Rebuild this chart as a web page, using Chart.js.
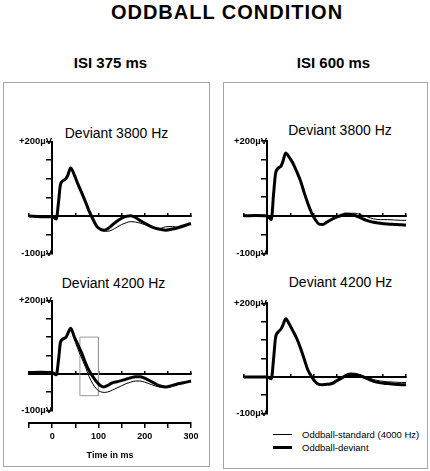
<!DOCTYPE html>
<html>
<head>
<meta charset="utf-8">
<script src="https://cdn.jsdelivr.net/npm/chart.js@4.4.1/dist/chart.umd.min.js"></script>
<style>
    body { margin: 0; background: #fff; font-family: "Liberation Sans", Arial, sans-serif; color: #000; }
    #page { position: relative; width: 430px; height: 471px; overflow: hidden; background: #fff; }
    .txt { position: absolute; white-space: nowrap; line-height: 1; transform: translate(-50%, -50%); }
    .txtg { position: absolute; white-space: nowrap; line-height: 1; transform: translate(0, -50%); font-size: 9.5px; }
    .panel { position: absolute; box-sizing: border-box; border: 1px solid #a6a6a6; }
    .trait { position: absolute; background: #000; width: 19px; }
    canvas { position: absolute; }
</style>
</head>
<body>
<div id="page">
    <div class="txt" style="left:227px; top:12px; font-size:20px; font-weight:bold; letter-spacing:1px;">ODDBALL CONDITION</div>
    <div class="txt" style="left:110.5px; top:62px; font-size:15px; font-weight:bold;">ISI 375 ms</div>
    <div class="txt" style="left:333.5px; top:62px; font-size:15px; font-weight:bold;">ISI 600 ms</div>

    <div class="panel" style="left:3px; top:82px; width:207px; height:385px;"></div>
    <div class="panel" style="left:223px; top:82px; width:205px; height:387px;"></div>

    <div class="txt" style="left:116.5px; top:133px; font-size:14px;">Deviant 3800 Hz</div>
    <div class="txt" style="left:113.5px; top:282.5px; font-size:14px;">Deviant 4200 Hz</div>
    <div class="txt" style="left:340px; top:130px; font-size:14px;">Deviant 3800 Hz</div>
    <div class="txt" style="left:340.5px; top:282px; font-size:14px;">Deviant 4200 Hz</div>

    <canvas id="isi375_3800" width="205" height="135" style="left:0px; top:128px;"></canvas>
    <canvas id="isi375_4200" width="205" height="135" style="left:0px; top:285px;"></canvas>
    <canvas id="axeTemps" width="205" height="127" style="left:0px; top:343px;"></canvas>
    <canvas id="isi600_3800" width="205" height="135" style="left:215px; top:128px;"></canvas>
    <canvas id="isi600_4200" width="205" height="135" style="left:215px; top:288px;"></canvas>

    <div class="trait" style="left:273px; top:434px; height:1px;"></div>
    <div class="txtg" style="left:302px; top:434.5px;">Oddball-standard (4000 Hz)</div>
    <div class="trait" style="left:273px; top:446px; height:3px;"></div>
    <div class="txtg" style="left:302px; top:447.5px;">Oddball-deviant</div>
</div>

<script>
// --- temps (ms) commun a toutes les courbes ---
const temps = [-50, -25, 0, 9, 14, 18, 24, 30, 34, 40, 48, 56, 64, 72, 80, 88, 96, 104, 112, 120,
               130, 140, 150, 160, 170, 180, 190, 200, 215, 230, 245, 260, 275, 290, 300];

// --- ISI 375 ms (µV) ---
const isi375_3800_deviant  = [0, -2, -2, -8, 40, 85, 95, 101, 110, 129, 110, 85, 62, 38, 13, -8, -27, -35, -38, -34,
                              -24, -14, -6, -1, 1, -4, -12, -19, -29, -35, -38, -35, -30, -24, -20];
const isi375_3800_standard = [0, -2, -2, -8, 40, 85, 95, 101, 110, 129, 110, 85, 62, 38, 12, -10, -28, -36, -40, -41,
                              -37, -30, -23, -18, -15, -16, -19, -23, -30, -34, -29, -28, -31, -25, -20];
const isi375_4200_deviant  = [3, 4, 3, -3, 40, 86, 95, 100, 110, 124, 100, 78, 56, 30, 8, -8, -22, -32, -36, -32,
                              -25, -22, -19, -15, -11, -8, -8, -12, -22, -32, -36, -32, -27, -23, -20];
const isi375_4200_standard = [3, 4, 3, -3, 40, 86, 95, 100, 110, 124, 96, 66, 42, 18, -8, -28, -42, -49, -51, -50,
                              -45, -39, -33, -27, -23, -20, -20, -23, -30, -36, -38, -34, -28, -23, -20];

// --- ISI 600 ms (µV) ---
const isi600_3800_deviant  = [0, 1, 0, -10, 60, 112, 128, 133, 145, 168, 156, 140, 118, 94, 62, 33, 8, -10, -22, -23,
                              -16, -9, -3, 1, 5, 4, 1, -4, -12, -17, -20, -22, -23, -24, -25];
const isi600_3800_standard = [0, 1, 0, -10, 55, 108, 122, 133, 145, 168, 156, 140, 118, 94, 62, 33, 8, -10, -22, -23,
                              -16, -9, -3, 2, 6, 7, 7, 4, -2, -8, -10, -10, -11, -12, -12];
const isi600_4200_deviant  = [-1, -1, -1, -6, 50, 105, 122, 130, 140, 158, 143, 124, 104, 78, 48, 18, 0, -14, -21, -22,
                              -21, -19, -12, -5, 2, 6, 5, 2, -5, -13, -17, -19, -21, -22, -22];
const isi600_4200_standard = [-1, -1, -1, -6, 50, 105, 122, 130, 140, 158, 143, 124, 104, 78, 48, 18, 0, -14, -21, -22,
                              -20, -16, -8, -1, 6, 10, 9, 6, -1, -8, -12, -14, -15, -16, -16];

// --- cadre gris (60-100 ms) ---
const cadreTemps   = [60, 100, 100, 60, 60];
const cadreValeurs = [100, 100, -60, -60, 100];

// --- etiquettes des axes ---
const yTickValeurs = [200, -100];
const yTickTextes  = ['+200µV', '-100µV'];
const etiquettesTemps = [0, 100, 200, 300];

Chart.defaults.font.family = '"Liberation Sans", Arial, sans-serif';
Chart.defaults.color = '#000';

const points = (xs, ys) => xs.map((x, i) => ({ x: x, y: ys[i] }));

function creerCourbe(id, deviant, standard, padding, avecCadre) {
    const datasets = [
        { data: points(temps, deviant), borderColor: '#000', borderWidth: 3, clip: false },
        { data: points(temps, standard), borderColor: '#000', borderWidth: 1, clip: false }
    ];
    if (avecCadre) {
        datasets.push({
            data: points(cadreTemps, cadreValeurs),
            borderColor: '#9a9a9a', borderWidth: 1,
            tension: 0, cubicInterpolationMode: 'default', clip: false
        });
    }
    return new Chart(document.getElementById(id), {
        type: 'line',
        data: { datasets: datasets },
        options: {
            responsive: false,
            animation: false,
            events: [],
            layout: { padding: padding },
            elements: {
                point: { radius: 0 },
                line: { tension: 0.4, cubicInterpolationMode: 'monotone', fill: false, borderJoinStyle: 'round' }
            },
            plugins: { legend: { display: false }, tooltip: { enabled: false } },
            scales: {
                x: {
                    type: 'linear', min: -50, max: 300, position: { y: 0 },
                    ticks: { display: false, stepSize: 50 },
                    grid: { drawOnChartArea: false, tickLength: -4, color: '#000', lineWidth: 1.5 },
                    border: { color: '#000', width: 2 }
                },
                y: {
                    type: 'linear', min: -100, max: 200, position: { x: 0 },
                    ticks: {
                        stepSize: 50, autoSkip: false, padding: 4, color: '#000',
                        font: { size: 9.5, weight: 'bold' },
                        callback: v => {
                            const k = yTickValeurs.indexOf(v);
                            return k >= 0 ? yTickTextes[k] : '';
                        }
                    },
                    grid: { drawOnChartArea: false, tickLength: 5, color: '#000', lineWidth: 1.5 },
                    border: { color: '#000', width: 2 }
                }
            }
        }
    });
}

document.addEventListener('DOMContentLoaded', () => {
    creerCourbe('isi375_3800', isi375_3800_deviant, isi375_3800_standard, { left: 29, right: 14, top: 13.5, bottom: 9 }, false);
    creerCourbe('isi375_4200', isi375_4200_deviant, isi375_4200_standard, { left: 29, right: 14, top: 15.5, bottom: 7 }, true);
    creerCourbe('isi600_3800', isi600_3800_deviant, isi600_3800_standard, { left: 29, right: 14, top: 13, bottom: 9 }, false);
    creerCourbe('isi600_4200', isi600_4200_deviant, isi600_4200_standard, { left: 29, right: 14, top: 15.3, bottom: 7.2 }, false);

    // --- axe du temps sous le graphique ISI 375 / 4200 Hz ---
    new Chart(document.getElementById('axeTemps'), {
        type: 'line',
        data: { datasets: [] },
        options: {
            responsive: false,
            animation: false,
            events: [],
            layout: { padding: { left: 29, right: 14, top: 0, bottom: 47 } },
            plugins: { legend: { display: false }, tooltip: { enabled: false } },
            scales: {
                y: { type: 'linear', display: false, min: 0, max: 1 },
                x: {
                    type: 'linear', min: -50, max: 300, position: { y: 0 },
                    ticks: {
                        stepSize: 50, autoSkip: false, maxRotation: 0, padding: 4, color: '#000',
                        font: { size: 9, weight: 'bold' },
                        callback: v => etiquettesTemps.includes(v) ? String(v) : ''
                    },
                    grid: { drawOnChartArea: false, tickLength: 4, color: '#000', lineWidth: 1.5 },
                    border: { color: '#000', width: 2 },
                    title: {
                        display: true, text: 'Time in ms', color: '#000',
                        font: { size: 9, weight: 'bold' },
                        padding: { top: 4, bottom: 0 }
                    }
                }
            }
        }
    });
});
</script>
</body>
</html>
